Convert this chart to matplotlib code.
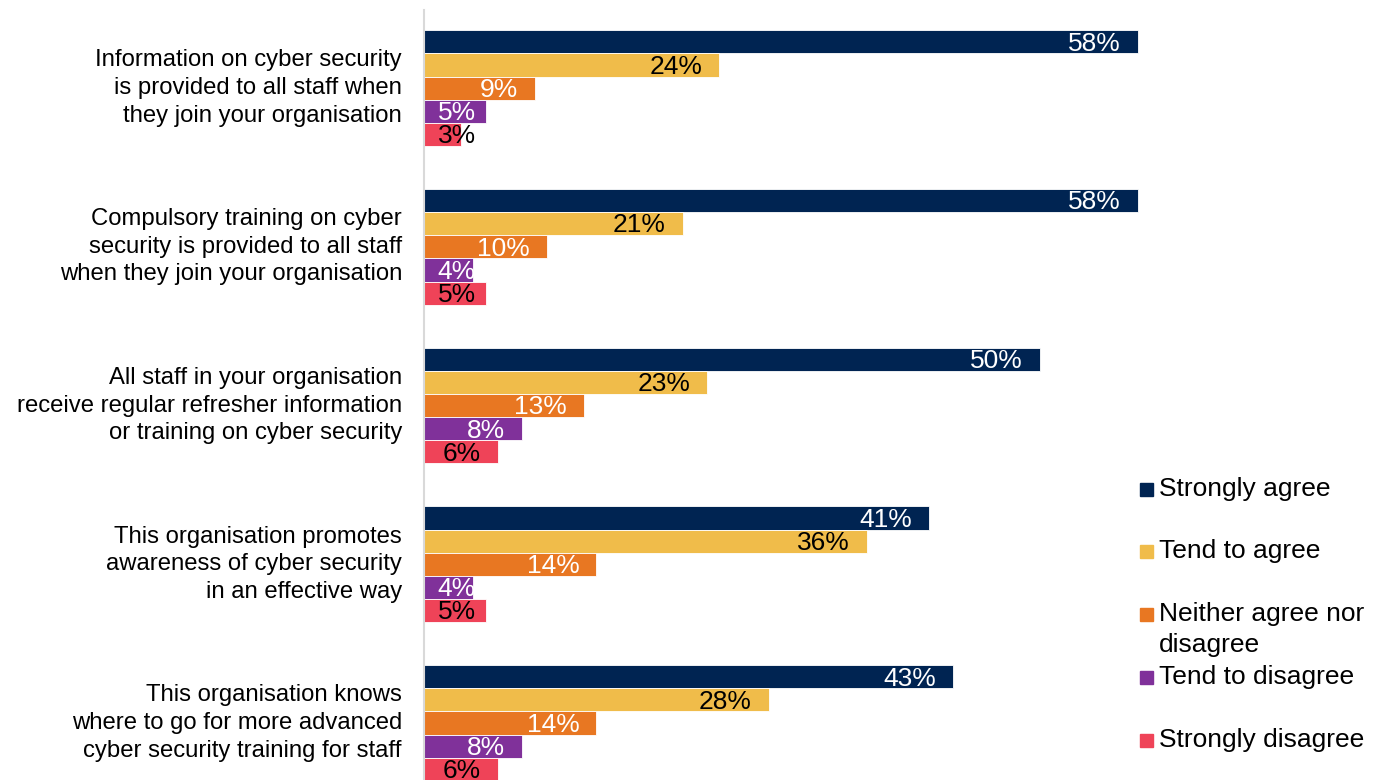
import matplotlib
matplotlib.use("Agg")
import matplotlib.pyplot as plt
from matplotlib.patches import Rectangle

plt.rcParams["font.family"] = ["Liberation Sans", "DejaVu Sans"]

statements = [
    "Information on cyber security\nis provided to all staff when\nthey join your organisation",
    "Compulsory training on cyber\nsecurity is provided to all staff\nwhen they join your organisation",
    "All staff in your organisation\nreceive regular refresher information\nor training on cyber security",
    "This organisation promotes\nawareness of cyber security\nin an effective way",
    "This organisation knows\nwhere to go for more advanced\ncyber security training for staff",
]
series_names = ["Strongly agree", "Tend to agree", "Neither agree nor\ndisagree",
                "Tend to disagree", "Strongly disagree"]
strongly_agree = [58, 58, 50, 41, 43]
tend_to_agree = [24, 21, 23, 36, 28]
neither = [9, 10, 13, 14, 14]
tend_to_disagree = [5, 4, 8, 4, 8]
strongly_disagree = [3, 5, 6, 5, 6]

series = [strongly_agree, tend_to_agree, neither, tend_to_disagree, strongly_disagree]
colors = ["#002452", "#F0BC4A", "#E87722", "#80319A", "#EF4358"]
label_colors = ["white", "black", "white", "white", "black"]

W, H = 1383, 780
fig = plt.figure(figsize=(W / 100, H / 100), dpi=100)
ax_left, ax_top = 424, 10
px_per_pct = 12.31
ax = fig.add_axes([ax_left / W, 0, (W - ax_left) / W, (H - ax_top) / H])
ax.set_xlim(0, (W - ax_left) / px_per_pct)

pitch = 6.85
ax.set_ylim(4 * pitch + 4 + 0.46, -1.37)

cat_fs = 17.2
val_fs = 19
leg_fs = 19
for j, (vals, col, lc) in enumerate(zip(series, colors, label_colors)):
    ys = [i * pitch + j for i in range(len(vals))]
    ax.barh(ys, vals, height=1.0, color=col, edgecolor="white", linewidth=0.6)
    for y, v in zip(ys, vals):
        x = max(v - 1.38, 4.22)
        ax.text(x, y + 0.08, f"{v}%", ha="right", va="center", color=lc, fontsize=val_fs)

for i, s in enumerate(statements):
    ax.text(-22 / px_per_pct, i * pitch + 2, s, ha="right", va="center",
            fontsize=cat_fs, linespacing=1.33, clip_on=False)

for side in ["top", "right", "bottom"]:
    ax.spines[side].set_visible(False)
ax.spines["left"].set_color("#D9D9D9")
ax.spines["left"].set_linewidth(1.5)
ax.set_xticks([])
ax.set_yticks([])

# legend drawn in figure pixel space
legend_y = [489, 551, 614, 677, 740]
line_gap = 31
sq = 13
for name, col, yp in zip(series_names, colors, legend_y):
    fig.patches.append(Rectangle((1140 / W, (H - yp - sq / 2) / H), sq / W, sq / H,
                                 transform=fig.transFigure, color=col))
    n_lines = name.count("\n") + 1
    yc = yp + (n_lines - 1) * line_gap / 2
    fig.text(1159 / W, (H - yc) / H, name, ha="left", va="center",
             fontsize=leg_fs, linespacing=1.39)

fig.savefig("out.png", dpi=100)
